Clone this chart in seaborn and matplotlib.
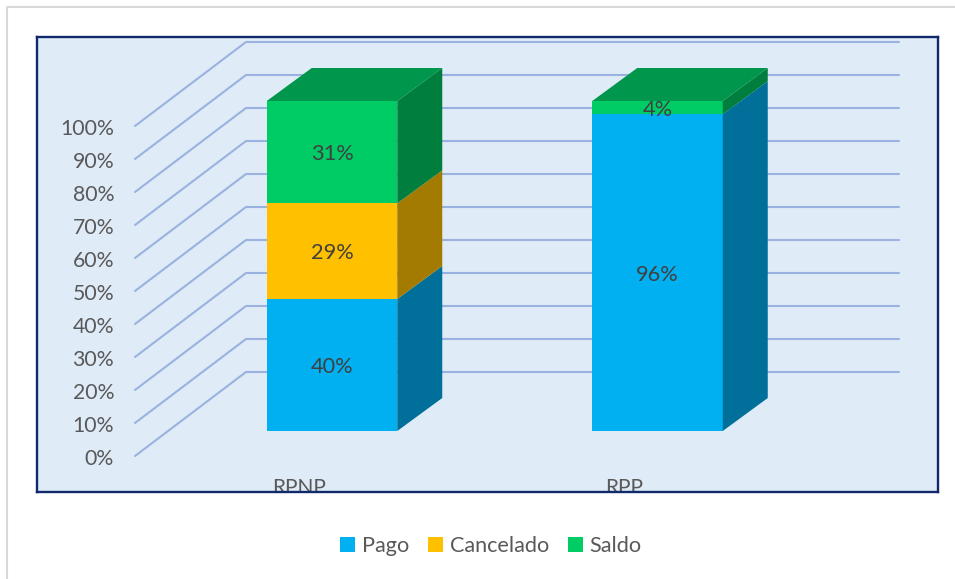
import matplotlib
matplotlib.use("Agg")
import matplotlib.pyplot as plt
from matplotlib.lines import Line2D
import seaborn as sns
import numpy as np

categories = ["RPNP", "RPP"]
series_names = ["Pago", "Cancelado", "Saldo"]
pago = [40, 96]
cancelado = [29, 0]
saldo = [31, 4]
tick_values = [0, 10, 20, 30, 40, 50, 60, 70, 80, 90, 100]

W, H = 955, 579
# panel in pixels, and the scale of the fake 3d box
PX_PER_UNIT = 3.3
PX_PER_CAT = 325.5
PANEL = (37, 37, 938, 492)
BASE_PX = 431
FIRST_BAR_PX = 332

COLORS = ["#00B0F0", "#FFC000", "#00CC66"]
SIDE_COLORS = ["#006F9A", "#A37B00", "#007E3E"]
TOP_COLORS = ["#00B0F0", "#FFC000", "#00964C"]
GRID = "#9AB2E0"
BAR_W = 130.5 / PX_PER_CAT
DEPTH_X = 45 / PX_PER_CAT
DEPTH_Y = 33 / PX_PER_UNIT

sns.set_theme(style="white")
plt.rcParams["font.family"] = ["Lato", "DejaVu Sans"]

fig = plt.figure(figsize=(W / 100, H / 100), dpi=100)
fig.patch.set_facecolor("white")
ax = fig.add_axes([PANEL[0] / W, 1 - PANEL[3] / H, (PANEL[2] - PANEL[0]) / W, (PANEL[3] - PANEL[1]) / H])
ax.set_facecolor("#DFEBF7")

# floor grid lines: front edge, back wall, right end
front_x = (135 - FIRST_BAR_PX) / PX_PER_CAT
wall_x = (246 - FIRST_BAR_PX) / PX_PER_CAT
right_x = (899 - FIRST_BAR_PX) / PX_PER_CAT
front_off = -25 / PX_PER_UNIT
wall_off = (BASE_PX - 372) / PX_PER_UNIT
for v in tick_values:
    ax.plot([front_x, wall_x, right_x], [v + front_off, v + wall_off, v + wall_off],
            color=GRID, lw=1.5, zorder=1, solid_joinstyle="miter")

bottoms = np.zeros(len(categories))
for i, (name, vals) in enumerate(zip(series_names, [pago, cancelado, saldo])):
    sns.barplot(x=categories, y=vals, bottom=bottoms, color=COLORS[i], saturation=1,
                width=BAR_W, label=name, ax=ax, zorder=3, linewidth=0)
    tops = bottoms + np.array(vals)
    for j in range(len(categories)):
        if vals[j] == 0:
            continue
        xr = j + BAR_W / 2
        ax.fill([xr, xr + DEPTH_X, xr + DEPTH_X, xr],
                [bottoms[j], bottoms[j] + DEPTH_Y, tops[j] + DEPTH_Y, tops[j]],
                color=SIDE_COLORS[i], lw=0, zorder=3)
    bottoms = tops

# lid of the stack
for j in range(len(categories)):
    xl, xr = j - BAR_W / 2, j + BAR_W / 2
    t = bottoms[j]
    ax.fill([xl, xr, xr + DEPTH_X, xl + DEPTH_X], [t, t, t + DEPTH_Y, t + DEPTH_Y],
            color=TOP_COLORS[2], lw=0, zorder=3)

for i, vals in enumerate([pago, cancelado, saldo]):
    labels = [f"{v}%" if v else "" for v in vals]
    ax.bar_label(ax.containers[i], labels=labels, label_type="center", color="#404040",
                 fontsize=15.7, padding=-1.5, zorder=5)

ax.set_xlim((PANEL[0] - FIRST_BAR_PX) / PX_PER_CAT, (PANEL[2] - FIRST_BAR_PX) / PX_PER_CAT)
ax.set_ylim((BASE_PX - PANEL[3]) / PX_PER_UNIT, (BASE_PX - PANEL[1]) / PX_PER_UNIT)

label_off = front_off - 0.8 / PX_PER_UNIT
ax.set_yticks([v + label_off for v in tick_values])
ax.set_yticklabels([f"{v}%" for v in tick_values])
ax.set_xticks([j - 33 / PX_PER_CAT for j in range(len(categories))])
ax.set_xticklabels(categories)
ax.tick_params(axis="y", length=0, pad=-55.5, labelsize=15.3, labelcolor="#595959")
ax.tick_params(axis="x", length=0, pad=-10.2, labelsize=15, labelcolor="#595959")
for lbl in ax.get_xticklabels():
    lbl.set_clip_on(True)
    lbl.set_clip_box(ax.bbox)
ax.set_xlabel("")
ax.set_ylabel("")

for s in ax.spines.values():
    s.set_color("#10296B")
    s.set_linewidth(1.7)
    s.set_zorder(6)

ax.legend(loc="center", bbox_to_anchor=(491 / W, 1 - 546 / H), bbox_transform=fig.transFigure,
          ncol=3, frameon=False, fontsize=15.6, labelcolor="#595959",
          handlelength=0.66, handleheight=0.66, handletextpad=0.32, columnspacing=0.9)

# outer frame of the picture, only top and left are visible
fig.add_artist(Line2D([7 / W, 7 / W, 1], [0, 1 - 7 / H, 1 - 7 / H], color="#D9D9D9", lw=1.5))

fig.savefig("out.png", dpi=100)
